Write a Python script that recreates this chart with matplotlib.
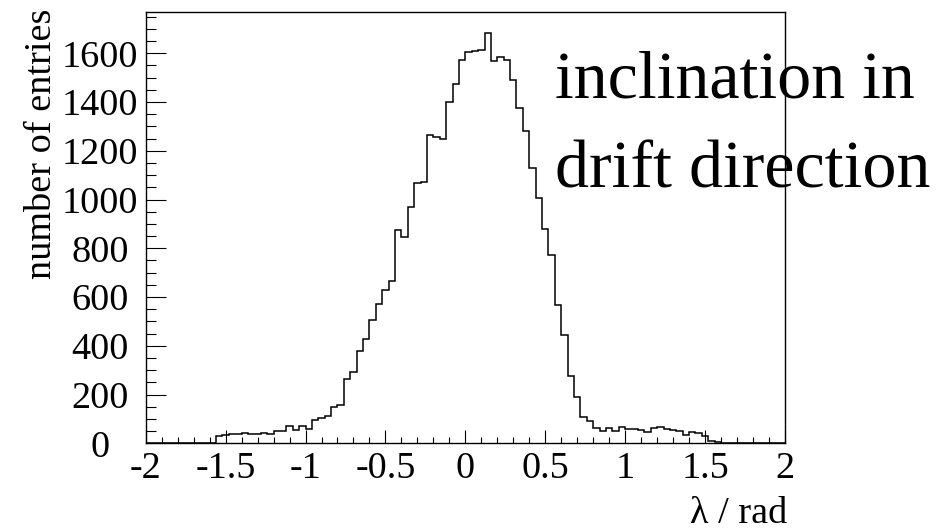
import numpy as np
import matplotlib
matplotlib.use("Agg")
import matplotlib.pyplot as plt
from matplotlib.ticker import MultipleLocator, FixedLocator

# ---- data ----
x_min, x_max, n_bins = -2.0, 2.0, 100
counts = [
    0, 0, 0, 0, 0, 0, 0, 0, 0, 0,
    0, 31, 36, 38, 38, 43, 40, 38, 43, 40,
    52, 50, 72, 55, 72, 59, 97, 104, 112, 148,
    158, 263, 291, 377, 429, 507, 570, 628, 667, 875,
    845, 968, 1069, 1072, 1265, 1255, 1249, 1402, 1473, 1571,
    1607, 1610, 1614, 1685, 1567, 1586, 1573, 1491, 1377, 1281,
    1128, 1005, 881, 771, 569, 444, 276, 191, 108, 92,
    61, 52, 61, 50, 66, 60, 57, 53, 47, 62,
    66, 60, 55, 52, 32, 48, 42, 28, 11, 4,
    0, 0, 0, 0, 0, 0, 0, 0, 0, 0,
]
x_ticks = [-2, -1.5, -1, -0.5, 0, 0.5, 1, 1.5, 2]
x_tick_labels = ["-2", "-1.5", "-1", "-0.5", "0", "0.5", "1", "1.5", "2"]
y_ticks = [0, 200, 400, 600, 800, 1000, 1200, 1400, 1600]
y_tick_labels = [str(v) for v in y_ticks]
y_max = 1768
x_title = "λ / rad"
y_title = "number of entries"
annotation = ["inclination in", "drift direction"]

W, H, DPI = 950, 531, 100
plt.rcParams["font.family"] = ["Liberation Serif", "DejaVu Serif"]

fig = plt.figure(figsize=(W / DPI, H / DPI), dpi=DPI)
L, R, T, B = 145.7, 785.0, 12.3, 443.3
ax = fig.add_axes([L / W, 1 - B / H, (R - L) / W, (B - T) / H])

edges = np.linspace(x_min, x_max, n_bins + 1)
ax.stairs(counts, edges, color="black", linewidth=1.1, zorder=2)

ax.set_xlim(x_min, x_max)
ax.set_ylim(0, y_max)

ax.xaxis.set_major_locator(FixedLocator(x_ticks))
ax.set_xticklabels(x_tick_labels)
ax.xaxis.set_minor_locator(MultipleLocator(0.1))
ax.yaxis.set_major_locator(FixedLocator(y_ticks))
ax.set_yticklabels(y_tick_labels)
ax.yaxis.set_minor_locator(MultipleLocator(50))

px = 72.0 / DPI
ax.tick_params(axis="x", which="major", direction="in", length=13 * px, width=0.8,
               labelsize=27.5, pad=6, top=False)
ax.tick_params(axis="x", which="minor", direction="in", length=6.5 * px, width=0.8, top=False)
ax.tick_params(axis="y", which="major", direction="in", length=20 * px, width=0.8,
               labelsize=27.5, pad=(L - 100) * px, right=False)
ax.tick_params(axis="y", which="minor", direction="in", length=10 * px, width=0.8, right=False)
for lbl in ax.get_yticklabels():
    lbl.set_horizontalalignment("center")
for s in ax.spines.values():
    s.set_linewidth(1.0)
    s.set_zorder(5)

# axis titles
fig.text(787 / W, 1 - 523 / H, x_title, ha="right", va="baseline", fontsize=27.5)
fig.text(42 / W, 1 - 9 / H, y_title, ha="center", va="top", rotation=90, fontsize=27.5)

# annotation (drawn under the frame)
ax.text(555 / W, 1 - 98 / H, annotation[0], transform=fig.transFigure, ha="left",
        va="baseline", fontsize=49, zorder=1, clip_on=False)
ax.text(555 / W, 1 - 187 / H, annotation[1], transform=fig.transFigure, ha="left",
        va="baseline", fontsize=49, zorder=1, clip_on=False)

fig.savefig("out.png", dpi=DPI)
